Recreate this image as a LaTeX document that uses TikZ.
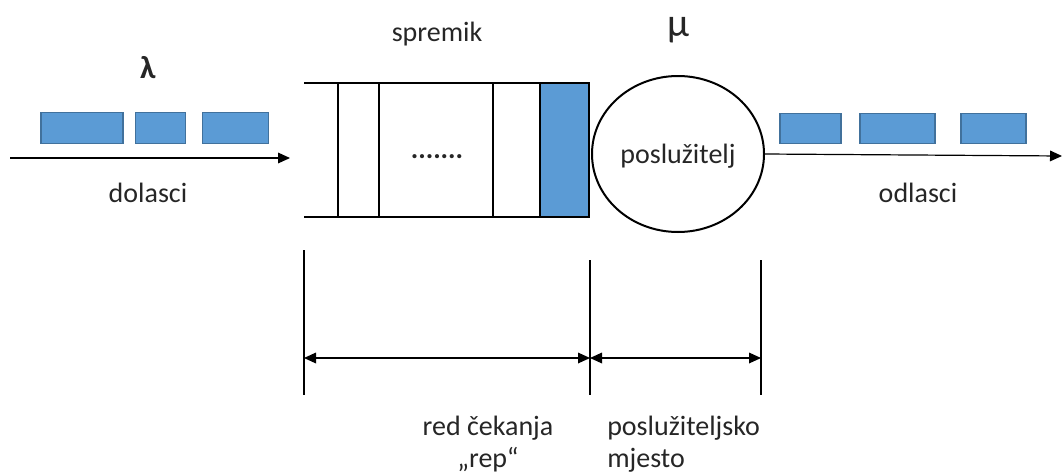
\documentclass[tikz,border=0pt]{standalone}
\usepackage{fontspec}
\setmainfont{Carlito}
\usetikzlibrary{arrows.meta,shapes.geometric}
\definecolor{pktblue}{HTML}{5B9BD5}
\definecolor{pktline}{HTML}{41719C}

\begin{document}
\begin{tikzpicture}[x=0.75pt, y=-0.75pt,
    packet/.style = {draw=pktline, fill=pktblue, line width=0.9pt, inner sep=0pt, minimum height=23pt},
    label/.style = {font=\fontsize{21}{22}\selectfont, text=black!85, inner sep=0pt},
    arr/.style = {line width=0.9pt, -{Triangle[length=9pt,width=8pt]}},
    dim/.style = {line width=0.9pt, {Triangle[length=9pt,width=8pt]}-{Triangle[length=9pt,width=8pt]}}]
  \useasboundingbox (0,0) rectangle (1063,475);

  % arrivals
  \node[packet, minimum width=61.5pt] (in1) at (82,128) {};
  \node[packet, minimum width=38pt] (in2) at (160.5,128) {};
  \node[packet, minimum width=50pt] (in3) at (235.5,128) {};
  \coordinate (instart) at (10,158);
  \coordinate (inend) at (290,158);
  \draw[arr] (instart) -- (inend);
  \node[label, font=\fontsize{24}{28}\selectfont\bfseries] (lambda) at (148,68) {λ};
  \node[label] (dolasci) at (148,193) {dolasci};

  % buffer
  \draw[line width=0.9pt] (304,83) -- (589,83);
  \draw[line width=0.9pt] (304,217) -- (589,217);
  \draw[line width=0.9pt] (338,83) -- (338,217);
  \draw[line width=0.9pt] (379,83) -- (379,217);
  \draw[line width=0.9pt] (493,83) -- (493,217);
  \node[packet, draw=black, minimum width=36.75pt, minimum height=100.5pt] (head) at (564.5,150) {};
  \node[label, font=\fontsize{21}{22}\selectfont\bfseries] (dots) at (437,157) {.......};
  \node[label] (spremik) at (437,34) {spremik};

  % server
  \node[ellipse, draw, line width=1.5pt, minimum width=129pt, minimum height=117pt, inner sep=0pt] (server) at (678,154) {};
  \node[label] at (678,156) {poslužitelj};
  \node[label, font=\fontsize{30}{32}\selectfont] (mu) at (678,30) {μ};

  % departures
  \node[packet, minimum width=45.75pt] (out1) at (810.5,128.5) {};
  \node[packet, minimum width=56.25pt] (out2) at (897.5,128.5) {};
  \node[packet, minimum width=48.75pt] (out3) at (993.5,128.5) {};
  \coordinate (outend) at (1062,156);
  \draw[arr] (server.east) -- (outend);
  \node[label] (odlasci) at (918,193) {odlasci};

  % dimensions
  \coordinate (d1) at (304,358);
  \coordinate (d2) at (590,358);
  \coordinate (d3) at (761,358);
  \draw[line width=0.9pt] (304,250) -- (304,395);
  \draw[line width=0.9pt] (590,260) -- (590,395);
  \draw[line width=0.9pt] (761,260) -- (761,395);
  \draw[dim] (d1) -- (d2);
  \draw[dim] (d2) -- (d3);
  \node[label, align=center] (rep) at (488,444) {red čekanja\\[2pt]„rep“};
  \node[label, align=left, anchor=west] (mjesto) at (607,444) {poslužiteljsko\\[2pt]mjesto};
\end{tikzpicture}
\end{document}
